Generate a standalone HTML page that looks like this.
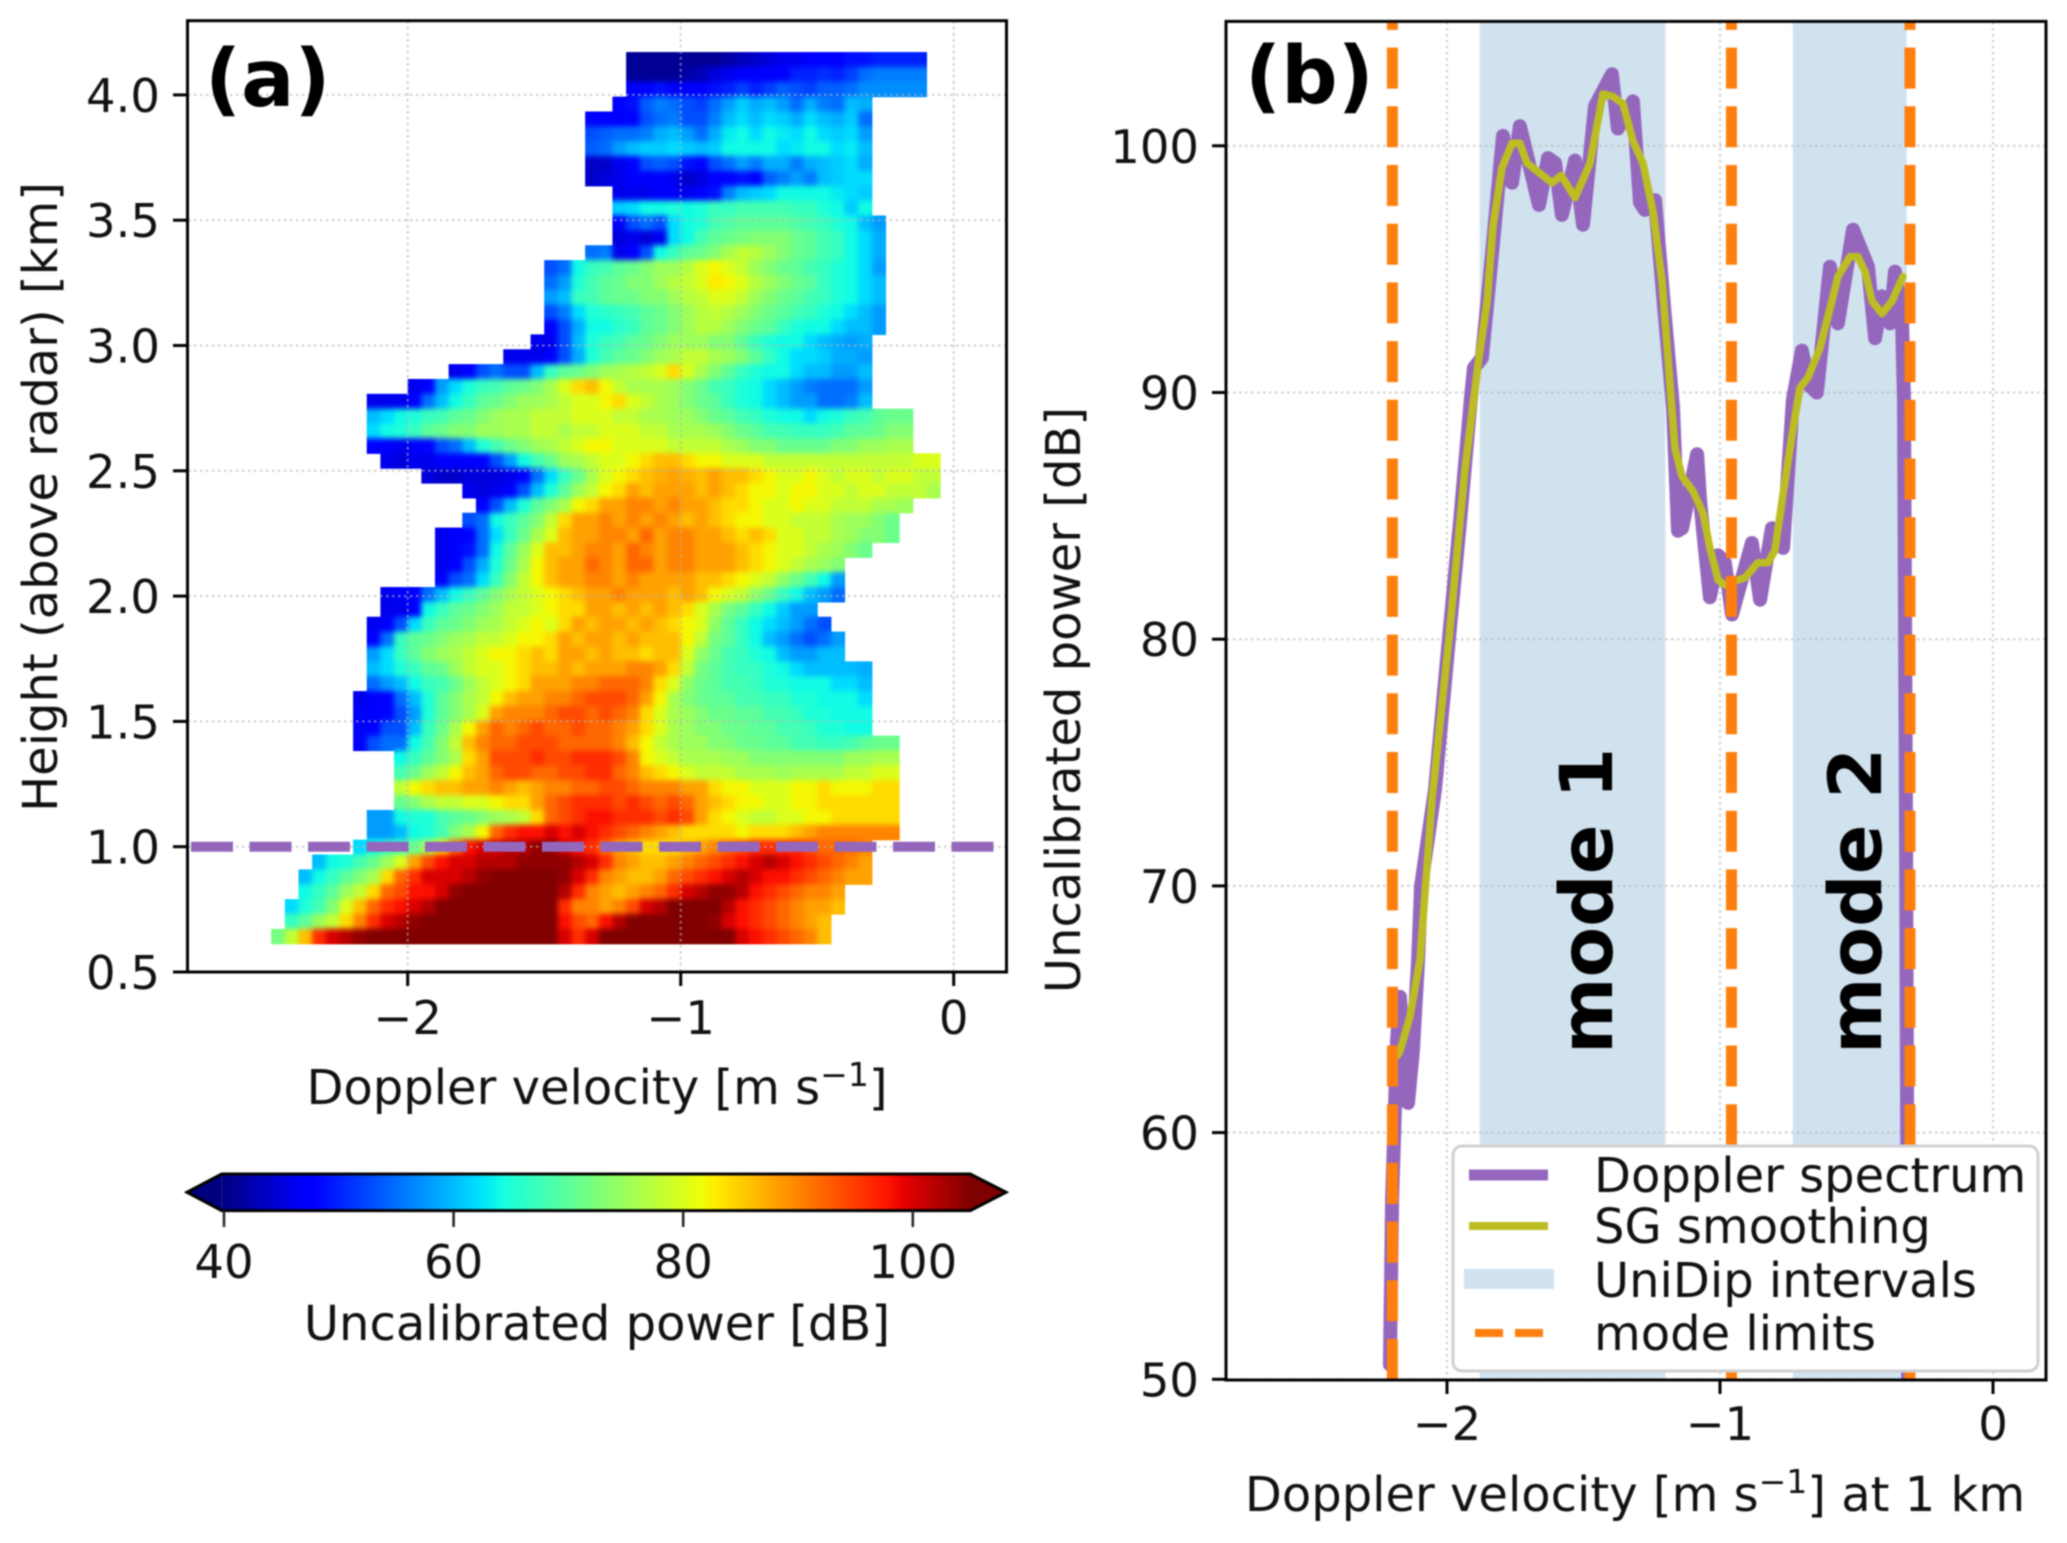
<!DOCTYPE html>
<html lang="en">
<head>
<meta charset="utf-8">
<title>Doppler spectrogram and spectrum with mode limits</title>
<style>
html,body{margin:0;padding:0;background:#fff;width:2067px;height:1543px;overflow:hidden}
svg{display:block;filter:blur(0.8px)}
text{font-family:"DejaVu Sans","Liberation Sans",sans-serif;fill:#111}
.t46{font-size:46.5px}
.t48{font-size:48px}
.b74{font-size:79px;font-weight:bold;fill:#000}
.b72{font-size:73.5px;font-weight:bold;fill:#000}
</style>
</head>
<body>
<svg id="fig" xmlns="http://www.w3.org/2000/svg" width="2067" height="1543" viewBox="0 0 2067 1543">
<defs>
<filter id="smooth" x="0" y="0" width="100%" height="100%" color-interpolation-filters="sRGB">
<feGaussianBlur in="SourceGraphic" stdDeviation="2.6" result="b"/>
<feComponentTransfer in="b" result="solid"><feFuncA type="linear" slope="60"/></feComponentTransfer>
<feComposite in="solid" in2="SourceAlpha" operator="in"/>
</filter>
<clipPath id="clipB"><rect x="1226" y="21.4" width="820" height="1358.6"/></clipPath>
</defs>
<rect width="2067" height="1543" fill="#fff"/>

<g id="panelA">
<g id="heatmap" filter="url(#smooth)"></g>
<g id="gridA"></g>
<line id="heightLine" stroke="#9467bd" stroke-width="10" stroke-dasharray="42 16.5"/>
<rect x="187.5" y="20.7" width="819" height="951.3" fill="none" stroke="#000" stroke-width="3"/>
<g id="ticksA"></g>
<text class="b74" x="205" y="106">(a)</text>
<text class="t48" x="597" y="1104" text-anchor="middle">Doppler velocity [m s<tspan dy="-18" font-size="33">−1</tspan><tspan dy="18">]</tspan></text>
<text class="t48" transform="translate(57,497) rotate(-90)" text-anchor="middle">Height (above radar) [km]</text>
</g>

<g id="colorbar">
<g id="cbCells"></g>
<polygon id="cbOutline" fill="none" stroke="#000" stroke-width="3"/>
<g id="cbTicks"></g>
<text class="t48" x="597" y="1340" text-anchor="middle">Uncalibrated power [dB]</text>
</g>

<g id="panelB">
<g id="spans"></g>
<g id="gridB"></g>
<text class="b72" transform="translate(1612,1054) rotate(-90)">mode 1</text>
<text class="b72" transform="translate(1881,1054) rotate(-90)">mode 2</text>
<g clip-path="url(#clipB)">
<path id="spectrumLine" fill="none" stroke="#9467bd" stroke-width="14" stroke-linejoin="round" stroke-linecap="round"/>
<path id="smoothLine" fill="none" stroke="#bcbd22" stroke-width="7.5" stroke-linejoin="round" stroke-linecap="round"/>
<g id="limits"></g>
</g>
<rect x="1226" y="21.4" width="820" height="1358.6" fill="none" stroke="#000" stroke-width="3"/>
<g id="ticksB"></g>
<text class="b74" x="1245" y="103">(b)</text>
<text class="t48" x="1635" y="1511" text-anchor="middle">Doppler velocity [m s<tspan dy="-18" font-size="33">−1</tspan><tspan dy="18">] at 1 km</tspan></text>
<text class="t48" transform="translate(1080,700) rotate(-90)" text-anchor="middle">Uncalibrated power [dB]</text>
<g>
<rect x="1453" y="1146" width="585" height="225" rx="9" fill="#fff" stroke="#d0d0d0" stroke-width="3"/>
<line x1="1469" x2="1548" y1="1175" y2="1175" stroke="#9467bd" stroke-width="11"/>
<line x1="1469" x2="1548" y1="1226" y2="1226" stroke="#bcbd22" stroke-width="8"/>
<rect x="1464" y="1269" width="90" height="20" fill="#d1e2ef"/>
<line x1="1475" x2="1543" y1="1333" y2="1333" stroke="#ff7f0e" stroke-width="8" stroke-dasharray="28 12"/>
<text class="t48" x="1594" y="1192">Doppler spectrum</text>
<text class="t48" x="1594" y="1243">SG smoothing</text>
<text class="t48" x="1594" y="1297">UniDip intervals</text>
<text class="t48" x="1594" y="1350">mode limits</text>
</g>
</g>
</svg>
<script>
/* ---------- panel (a) tick data ---------- */
const velocityTicks = [-2, -1, 0];
const velocityTickLabels = ['−2', '−1', '0'];
const heightTicks = [0.5, 1, 1.5, 2, 2.5, 3, 3.5, 4];
const heightTickLabels = ['0.5', '1.0', '1.5', '2.0', '2.5', '3.0', '3.5', '4.0'];
const referenceHeight = [1.0];

/* ---------- colorbar data ---------- */
const powerRange = [39.8, 105];
const colorbarTicks = [40, 60, 80, 100];
const colorbarTickLabels = ['40', '60', '80', '100'];

/* ---------- heatmap grid: velocity bin -2.60 + 0.05*col, height rows from 4.17 km downward ---------- */
const hmVelocityOrigin = [-2.6];
const hmVelocityStep = [0.05];
const hmHeightTop = [4.171];
const hmHeightStep = [0.0593];
const hmRowStartCol = [28,28,28,27,25,25,25,25,25,27,27,27,27,25,22,22,22,22,22,21,19,15,12,9,9,9,9,10,13,16,17,16,14,14,14,14,10,10,9,9,9,9,9,8,8,8,8,11,11,11,11,9,9,8,5,4,4,3,3,2];
const hmRowValues = [
[41,41,41,41,41,41,41,42,43,44,45,46,46,47,47,48,49,49,50,50,50,50],
[41,41,41,41,42,43,45,46,47,47,47,48,50,50,51,50,52,55,56,56,56,56],
[47,48,49,48,48,47,49,50,52,50,52,54,53,52,54,54,55,57,57,57,57,57],
[48,49,54,56,55,53,52,55,58,61,59,60,58,55,59,56,55,60,59],
[47,47,47,48,53,55,56,53,53,56,60,62,60,62,61,59,62,60,59,61,55],
[53,54,55,55,56,59,60,58,55,59,63,64,62,64,63,62,64,62,61,62,58],
[54,55,58,60,61,61,62,61,60,61,64,64,64,64,62,63,64,64,62,63,60],
[44,44,46,48,53,54,53,49,48,53,55,58,56,59,59,56,59,60,61,62,59],
[44,45,46,47,47,47,46,44,45,47,48,49,48,54,56,58,56,60,61,62,62],
[46,46,46,47,47,46,47,49,56,60,61,62,64,64,64,64,63,62,61],
[61,62,64,64,65,64,65,67,67,68,68,68,68,67,67,65,64,61,64],
[48,53,55,53,62,64,65,68,69,70,70,70,70,69,68,67,65,64,60,58],
[45,46,45,46,62,64,68,70,71,72,73,73,73,71,70,68,67,64,62,59],
[55,56,46,47,53,64,67,70,71,73,76,78,77,75,73,71,70,68,67,64,62,59],
[53,55,64,67,68,70,71,73,75,75,77,80,82,80,78,75,73,71,70,68,67,65,64,62,58],
[55,58,65,68,70,71,73,73,75,77,78,80,83,82,80,77,75,73,71,70,67,65,64,62,60],
[58,60,67,68,70,71,71,73,73,75,77,78,80,80,78,75,73,71,70,68,67,65,64,62,60],
[53,56,62,65,66,67,68,70,71,73,75,77,78,77,75,73,71,70,68,67,65,64,62,60,58],
[47,53,59,64,64,66,67,70,71,73,75,77,77,75,73,71,70,67,65,64,64,62,60,60,58],
[46,46,53,60,65,67,68,70,71,73,75,75,75,73,73,70,67,65,64,64,62,60,59,58,59],
[46,46,46,47,53,59,65,68,70,71,73,75,76,78,78,76,75,73,70,67,64,62,62,61,59,59,58],
[46,48,53,55,53,53,60,67,70,71,73,75,76,77,78,80,84,80,76,73,70,67,65,64,64,62,60,60,58,58,60],
[46,48,58,62,65,67,68,70,71,73,76,80,84,86,82,78,76,76,76,75,73,71,68,67,65,64,62,60,58,56,55,55,55,58],
[46,46,46,48,55,60,64,67,70,71,73,75,75,76,78,80,80,82,84,80,78,76,75,73,71,70,67,65,64,62,60,58,58,55,55,56,60],
[60,62,64,65,67,68,70,71,73,75,76,76,78,78,78,80,80,80,78,78,76,76,75,75,73,71,70,68,67,65,64,64,62,64,65,67,68,70,71,71],
[62,64,65,67,70,71,73,73,75,75,76,76,78,78,76,78,78,80,80,80,78,78,76,76,76,75,73,71,70,68,68,67,67,67,68,70,70,71,73,73],
[47,47,46,47,48,53,55,60,65,68,71,73,75,76,78,80,82,82,80,80,80,80,78,78,78,78,76,75,73,73,71,71,71,71,73,73,75,75,76,76],
[46,45,46,46,47,47,47,48,53,58,64,68,71,75,76,78,80,80,82,84,86,86,84,82,82,80,80,80,78,78,78,78,78,78,78,78,78,78,78,80,80],
[45,44,44,45,45,45,46,48,55,62,67,71,76,80,82,84,86,87,88,87,86,88,86,86,84,82,80,80,82,80,78,80,80,78,80,80,78,78],
[46,45,46,47,53,60,65,70,75,78,82,84,88,86,88,88,88,86,88,86,84,82,82,80,82,82,80,80,78,80,80,78,78,78,76],
[48,53,60,65,70,73,76,82,84,88,88,90,90,88,90,88,88,86,84,84,82,80,80,82,80,80,78,78,78,76,76,75],
[53,55,64,67,70,73,78,84,88,88,90,88,90,88,90,88,86,88,86,84,82,82,80,80,78,78,78,76,75,75,73,71],
[46,47,48,55,62,67,71,76,80,86,88,88,90,90,88,92,88,90,90,88,88,86,84,86,84,80,80,78,78,76,75,73,73,71],
[46,47,49,55,64,70,75,80,86,86,88,90,90,88,92,90,88,90,90,88,88,88,86,84,82,80,80,78,76,75,73,71],
[46,48,53,59,65,71,76,82,86,88,88,92,90,88,92,92,88,90,90,88,88,88,86,84,82,80,78,76,75,73],
[48,53,55,62,67,73,78,82,86,88,88,90,90,88,90,88,88,88,88,86,86,84,82,80,78,74,71,68,64,58],
[46,47,47,55,60,64,67,70,73,76,78,80,82,84,86,88,88,90,88,88,88,86,88,86,82,80,78,74,71,67,64,60,58,55],
[46,46,47,64,67,70,71,73,75,78,78,80,82,84,84,88,88,86,88,86,88,86,84,80,76,72,70,67,64,61,58,58],
[46,47,53,62,67,70,71,73,75,76,78,80,82,80,84,88,86,88,88,86,88,86,84,82,80,74,70,67,64,62,60,58,55,53],
[48,55,67,70,71,73,75,76,78,78,80,82,82,84,88,86,88,88,86,88,86,86,86,82,78,72,70,67,64,60,58,55,53,55,58],
[58,62,67,70,73,75,76,78,80,82,82,84,86,84,88,88,86,88,86,86,84,86,86,80,74,71,68,67,65,64,60,58,58,60,60],
[60,62,65,67,70,71,75,78,80,80,82,84,86,86,88,86,88,88,88,90,90,88,84,78,72,70,68,67,67,65,64,62,60,60,60,60,59],
[55,58,60,64,67,68,71,75,78,80,82,84,88,88,88,90,90,92,92,92,90,84,80,74,71,70,68,68,67,65,65,64,64,64,62,62,60],
[46,47,48,55,60,65,70,73,76,78,82,86,88,88,90,90,92,94,94,94,92,88,82,76,73,71,70,70,68,68,67,67,65,65,64,64,64,62],
[47,47,48,53,58,65,70,73,76,80,88,90,90,90,92,94,94,92,94,92,90,84,80,76,75,73,71,71,70,70,68,68,67,65,65,64,64,64],
[48,48,53,53,60,67,71,76,82,88,92,90,92,94,92,92,94,92,92,90,88,84,80,76,75,73,73,71,71,70,70,68,68,67,65,65,64,64],
[48,53,55,55,64,68,73,78,86,90,92,92,94,94,94,92,92,92,92,90,86,82,78,76,75,75,73,73,71,71,70,70,68,68,67,67,68,70,71,71],
[64,67,70,73,76,84,88,94,94,94,96,94,94,96,96,96,94,90,82,80,78,76,76,76,75,75,73,73,73,73,73,73,73,75,75,76,76],
[68,71,75,78,82,86,88,92,94,94,92,92,94,94,96,96,92,90,86,84,82,80,78,78,78,76,76,76,75,76,76,76,76,78,78,80,80],
[78,82,84,86,86,88,88,90,88,86,88,90,90,92,92,94,94,92,90,90,90,88,88,84,82,82,80,80,80,82,82,84,82,82,82,84,84],
[71,73,76,78,78,80,80,82,84,84,88,92,94,96,96,96,94,96,94,92,94,92,88,86,84,82,82,80,80,82,82,84,84,84,84,84,84],
[58,58,64,65,65,68,70,71,73,75,76,78,84,92,94,96,98,98,96,96,96,94,96,94,88,84,82,80,78,78,80,80,82,82,84,84,84,84,84],
[58,58,60,64,65,68,73,76,82,92,96,98,98,100,98,100,98,96,94,92,90,88,86,84,84,84,84,82,84,84,84,86,88,90,90,90,90,90,90],
[62,64,67,68,71,76,84,92,98,100,100,102,102,104,104,100,98,96,92,88,86,84,84,84,86,88,90,92,94,96,96,96,96,94,92,92,92,90],
[60,64,65,68,71,75,80,88,94,98,100,100,102,102,102,104,104,104,104,102,100,96,90,88,86,86,88,90,92,94,96,98,100,102,100,98,96,94,92,90,88],
[60,64,67,70,73,76,84,92,96,100,100,100,102,104,105,105,105,105,105,104,100,96,90,88,86,86,88,92,94,96,98,100,102,100,98,98,96,94,92,90,88,88],
[64,67,70,75,78,84,92,94,98,98,100,104,105,105,105,105,105,105,105,102,96,90,88,86,88,90,92,96,100,102,104,104,102,98,96,94,92,90,90,88],
[62,65,68,73,80,86,92,96,98,100,102,105,105,105,105,105,105,105,105,105,96,90,90,88,90,94,100,102,105,105,105,105,102,98,96,94,92,90,88,88,86],
[67,70,75,78,84,90,96,100,102,104,105,105,105,105,105,105,105,105,105,105,98,94,92,98,102,105,105,105,105,105,105,104,100,98,96,94,92,90,88,86],
[72,78,86,96,100,102,104,105,105,105,105,105,105,105,105,105,105,105,105,105,105,100,96,100,105,105,105,105,105,105,105,105,105,105,100,98,96,94,92,90,86]
];

/* ---------- panel (b) data ---------- */
const powerTicks = [50, 60, 70, 80, 90, 100];
const powerTickLabels = ['50', '60', '70', '80', '90', '100'];
const spectrumVelocity = [-2.209,-2.201,-2.191,-2.183,-2.172,-2.158,-2.143,-2.125,-2.106,-2.095,-2.044,-1.993,-1.952,-1.912,-1.901,-1.872,-1.832,-1.795,-1.762,-1.733,-1.663,-1.630,-1.604,-1.579,-1.531,-1.502,-1.458,-1.396,-1.374,-1.319,-1.293,-1.275,-1.238,-1.205,-1.172,-1.154,-1.139,-1.084,-1.073,-1.037,-1.007,-0.982,-0.956,-0.883,-0.853,-0.810,-0.769,-0.733,-0.700,-0.674,-0.645,-0.597,-0.568,-0.513,-0.458,-0.432,-0.407,-0.377,-0.359,-0.333,-0.326,-0.319,-0.311];
const spectrumPower = [50.6,57.3,60.9,63.7,65.5,62.9,61.2,63.3,67.0,70.0,73.9,80.0,84.8,89.8,91.0,91.4,96.0,100.4,98.5,100.8,97.6,99.5,99.3,97.2,99.4,96.8,101.6,102.9,100.7,101.8,97.7,97.4,97.8,93.5,89.4,84.4,84.5,87.5,85.6,81.7,83.4,83.1,81.0,83.9,81.6,84.5,83.7,89.7,91.7,90.3,90.0,95.1,92.8,96.6,95.1,92.2,93.9,92.8,94.9,92.8,89.7,73.5,50];
const smoothVelocity = [-2.183,-2.172,-2.136,-2.099,-2.055,-1.993,-1.934,-1.883,-1.853,-1.832,-1.799,-1.762,-1.733,-1.707,-1.615,-1.582,-1.531,-1.476,-1.429,-1.392,-1.355,-1.319,-1.282,-1.245,-1.212,-1.165,-1.139,-1.099,-1.062,-1.037,-1.007,-0.982,-0.908,-0.861,-0.824,-0.799,-0.769,-0.736,-0.707,-0.678,-0.634,-0.590,-0.568,-0.524,-0.495,-0.469,-0.443,-0.407,-0.370,-0.330];
const smoothPower = [63.1,63.3,64.7,67,73.5,80,86.9,91.4,93.7,96.7,99.1,100.1,100.1,99.3,98.5,98.8,97.9,99.3,102.1,102,101.7,100.2,99.3,97.3,94.5,87.7,86.6,86,85.1,83.7,82.4,82.2,82.5,83.1,83.1,83.6,85.9,88.3,90.2,90.6,91.8,93.7,94.7,95.5,95.5,94.9,93.7,93.2,93.7,94.7];
const intervalStarts = [-1.88, -0.733];
const intervalEnds = [-1.2, -0.316];
const modeLimits = [-2.2, -0.958, -0.304];

/* ---------- axis functions ---------- */
const xA = v => 953.7 + 273 * v;
const yA = h => 972 - (h - 0.5) * 250.6;
const xB = v => 1993 + 273 * v;
const yB = p => 1379.3 - (p - 50) * 24.67;
const xC = p => 224 + (p - 40) * 11.48;

const NS = 'http://www.w3.org/2000/svg';
function mk(tag, parent, attrs, txt) {
  const el = document.createElementNS(NS, tag);
  for (const k in attrs) el.setAttribute(k, attrs[k]);
  if (txt !== undefined) el.textContent = txt;
  document.getElementById(parent).appendChild(el);
  return el;
}
function ramp(t, pts) {
  if (t <= pts[0][0]) return pts[0][1];
  for (let i = 1; i < pts.length; i++) {
    if (t <= pts[i][0]) {
      const a = pts[i - 1], b = pts[i];
      return a[1] + (b[1] - a[1]) * (t - a[0]) / (b[0] - a[0]);
    }
  }
  return pts[pts.length - 1][1];
}
function jet(p) {
  const t = Math.max(0, Math.min(1, (p - powerRange[0]) / (powerRange[1] - powerRange[0])));
  const r = ramp(t, [[0.35, 0], [0.66, 1], [0.89, 1], [1, 0.5]]);
  const g = ramp(t, [[0.125, 0], [0.375, 1], [0.64, 1], [0.91, 0]]);
  const b = ramp(t, [[0, 0.5], [0.11, 1], [0.34, 1], [0.65, 0]]);
  return 'rgb(' + Math.round(r * 255) + ',' + Math.round(g * 255) + ',' + Math.round(b * 255) + ')';
}
function linePath(xs, ys) {
  return xs.map((v, i) => (i ? 'L' : 'M') + xB(v).toFixed(1) + ' ' + yB(ys[i]).toFixed(1)).join('');
}

/* ---------- heatmap ---------- */
hmRowValues.forEach((row, j) => {
  const hTopRow = hmHeightTop[0] - j * hmHeightStep[0];
  row.forEach((val, k) => {
    const v0 = hmVelocityOrigin[0] + (hmRowStartCol[j] + k) * hmVelocityStep[0];
    const cell = mk('rect', 'heatmap', {
      x: xA(v0).toFixed(2),
      y: yA(hTopRow).toFixed(2),
      width: (xA(v0 + hmVelocityStep[0]) - xA(v0) + 0.6).toFixed(2),
      height: (yA(hTopRow - hmHeightStep[0]) - yA(hTopRow) + 0.6).toFixed(2),
      fill: jet(val)
    });
    
    
  });
});

/* ---------- panel (a) grid and ticks ---------- */
const gridStyle = { stroke: '#b4b4b4', 'stroke-width': 2, 'stroke-dasharray': '2.5 3.5', opacity: 0.65 };
velocityTicks.forEach((v, i) => {
  const g = mk('line', 'gridA', Object.assign({ x1: xA(v), x2: xA(v), y1: 21, y2: 972 }, gridStyle));
  
  
  const t = mk('line', 'ticksA', { x1: xA(v), x2: xA(v), y1: 972, y2: 986, stroke: '#000', 'stroke-width': 3 });
  
  
  const l = mk('text', 'ticksA', { x: xA(v), y: 1034, 'text-anchor': 'middle', class: 't46' }, velocityTickLabels[i]);
  
  
});
heightTicks.forEach((h, i) => {
  const g = mk('line', 'gridA', Object.assign({ x1: 188, x2: 1006, y1: yA(h), y2: yA(h) }, gridStyle));
  
  
  const t = mk('line', 'ticksA', { x1: 173, x2: 187, y1: yA(h), y2: yA(h), stroke: '#000', 'stroke-width': 3 });
  
  
  const l = mk('text', 'ticksA', { x: 160, y: yA(h) + 17, 'text-anchor': 'end', class: 't46' }, heightTickLabels[i]);
  
  
});
const hl = document.getElementById('heightLine');
hl.setAttribute('x1', 191);
hl.setAttribute('x2', 994);
hl.setAttribute('y1', yA(referenceHeight[0]));
hl.setAttribute('y2', yA(referenceHeight[0]));

/* ---------- colorbar ---------- */
const cbTop = 1174, cbBottom = 1210.6, cbMid = 1192.3;
const cbLeft = xC(powerRange[0]), cbRight = xC(powerRange[1]);
for (let x = cbLeft; x < cbRight; x += 3) {
  const p = powerRange[0] + (x + 1.5 - cbLeft) / (cbRight - cbLeft) * (powerRange[1] - powerRange[0]);
  const seg = mk('rect', 'cbCells', { x: x, y: cbTop, width: 3.5, height: cbBottom - cbTop, fill: jet(p) });
  
  
}
const tipL = mk('polygon', 'cbCells', { points: cbLeft + ',' + cbTop + ' 187,' + cbMid + ' ' + cbLeft + ',' + cbBottom, fill: '#00007f' });


const tipR = mk('polygon', 'cbCells', { points: cbRight + ',' + cbTop + ' 1006,' + cbMid + ' ' + cbRight + ',' + cbBottom, fill: '#7f0000' });


document.getElementById('cbOutline').setAttribute('points',
  cbLeft + ',' + cbTop + ' ' + cbRight + ',' + cbTop + ' 1006,' + cbMid + ' ' + cbRight + ',' + cbBottom + ' ' + cbLeft + ',' + cbBottom + ' 187,' + cbMid);
colorbarTicks.forEach((p, i) => {
  const t = mk('line', 'cbTicks', { x1: xC(p), x2: xC(p), y1: cbBottom, y2: 1227, stroke: '#222', 'stroke-width': 2.5 });
  
  
  const l = mk('text', 'cbTicks', { x: xC(p), y: 1278, 'text-anchor': 'middle', class: 't46' }, colorbarTickLabels[i]);
  
  
});

/* ---------- panel (b) ---------- */
intervalStarts.forEach((v, i) => {
  const r = mk('rect', 'spans', { x: xB(v), y: 21.4, width: xB(intervalEnds[i]) - xB(v), height: 1358.6, fill: '#d1e2ef' });
  
  
});
velocityTicks.forEach((v, i) => {
  const g = mk('line', 'gridB', Object.assign({ x1: xB(v), x2: xB(v), y1: 22, y2: 1380 }, gridStyle));
  
  
  const t = mk('line', 'ticksB', { x1: xB(v), x2: xB(v), y1: 1380, y2: 1394, stroke: '#000', 'stroke-width': 3 });
  
  
  const l = mk('text', 'ticksB', { x: xB(v), y: 1440, 'text-anchor': 'middle', class: 't46' }, velocityTickLabels[i]);
  
  
});
powerTicks.forEach((p, i) => {
  const g = mk('line', 'gridB', Object.assign({ x1: 1227, x2: 2045, y1: yB(p), y2: yB(p) }, gridStyle));
  
  
  const t = mk('line', 'ticksB', { x1: 1212, x2: 1226, y1: yB(p), y2: yB(p), stroke: '#000', 'stroke-width': 3 });
  
  
  const l = mk('text', 'ticksB', { x: 1199, y: yB(p) + 17, 'text-anchor': 'end', class: 't46' }, powerTickLabels[i]);
  
  
});
document.getElementById('spectrumLine').setAttribute('d', linePath(spectrumVelocity, spectrumPower));
document.getElementById('smoothLine').setAttribute('d', linePath(smoothVelocity, smoothPower));
modeLimits.forEach(v => {
  const m = mk('line', 'limits', { x1: xB(v), x2: xB(v), y1: 1380, y2: 21, stroke: '#ff7f0e', 'stroke-width': 11, 'stroke-dasharray': '41 17.7' });
  
  
});
</script>
</body>
</html>
